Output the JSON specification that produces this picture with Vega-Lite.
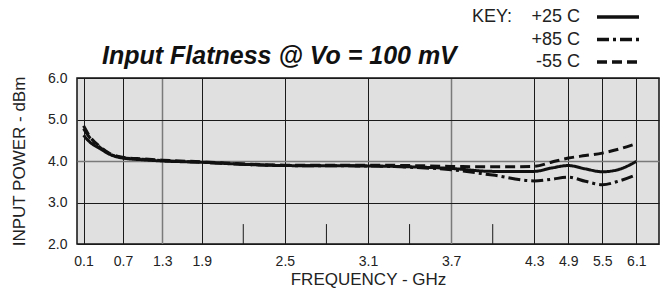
{
  "$schema": "https://vega.github.io/schema/vega-lite/v6.json",
  "autosize": "none",
  "padding": {"left": 77, "top": 78, "right": 10, "bottom": 49},
  "width": 582,
  "height": 166,
  "background": "white",
  "title": {
    "text": "Input Flatness @ Vo = 100 mV",
    "anchor": "start",
    "frame": "group",
    "dx": 25,
    "offset": -61,
    "font": "Liberation Sans",
    "fontSize": 25,
    "fontWeight": "bold",
    "fontStyle": "italic",
    "color": "#111"
  },
  "config": {
    "view": {"fill": "#e0e0e0", "stroke": "#111", "strokeWidth": 1.5},
    "axis": {
      "labelFont": "Liberation Sans",
      "labelFontSize": 14,
      "labelColor": "#222",
      "titleFont": "Liberation Sans",
      "titleFontSize": 17,
      "titleFontWeight": "normal",
      "titleColor": "#222",
      "ticks": false,
      "domain": false,
      "gridOpacity": 1
    },
    "legend": {
      "orient": "none",
      "legendX": 395,
      "legendY": -70,
      "titleOrient": "left",
      "titleAnchor": "start",
      "titlePadding": 82,
      "titleFont": "Liberation Sans",
      "titleFontSize": 18,
      "titleFontWeight": "normal",
      "titleColor": "#222",
      "labelFont": "Liberation Sans",
      "labelFontSize": 18,
      "labelColor": "#222",
      "labelAlign": "right",
      "labelOffset": -33,
      "symbolType": "M-1,0H5",
      "symbolSize": 196,
      "symbolStrokeWidth": 3.5,
      "symbolStrokeColor": "#111",
      "rowPadding": 4.5
    }
  },
  "layer": [
    {
      "data": {
        "values": [
          {"freq": 0.1, "power": 4.62, "temp": "+25 C"},
          {"freq": 0.2, "power": 4.45, "temp": "+25 C"},
          {"freq": 0.35, "power": 4.3, "temp": "+25 C"},
          {"freq": 0.5, "power": 4.16, "temp": "+25 C"},
          {"freq": 0.7, "power": 4.07, "temp": "+25 C"},
          {"freq": 1.0, "power": 4.03, "temp": "+25 C"},
          {"freq": 1.3, "power": 4.0, "temp": "+25 C"},
          {"freq": 1.9, "power": 3.97, "temp": "+25 C"},
          {"freq": 2.2, "power": 3.92, "temp": "+25 C"},
          {"freq": 2.5, "power": 3.89, "temp": "+25 C"},
          {"freq": 3.1, "power": 3.88, "temp": "+25 C"},
          {"freq": 3.4, "power": 3.86, "temp": "+25 C"},
          {"freq": 3.7, "power": 3.82, "temp": "+25 C"},
          {"freq": 4.0, "power": 3.75, "temp": "+25 C"},
          {"freq": 4.3, "power": 3.75, "temp": "+25 C"},
          {"freq": 4.6, "power": 3.83, "temp": "+25 C"},
          {"freq": 4.9, "power": 3.89, "temp": "+25 C"},
          {"freq": 5.2, "power": 3.81, "temp": "+25 C"},
          {"freq": 5.5, "power": 3.74, "temp": "+25 C"},
          {"freq": 5.8, "power": 3.8, "temp": "+25 C"},
          {"freq": 6.1, "power": 3.99, "temp": "+25 C"},
          {"freq": 0.1, "power": 4.78, "temp": "+85 C"},
          {"freq": 0.2, "power": 4.55, "temp": "+85 C"},
          {"freq": 0.35, "power": 4.33, "temp": "+85 C"},
          {"freq": 0.5, "power": 4.17, "temp": "+85 C"},
          {"freq": 0.7, "power": 4.08, "temp": "+85 C"},
          {"freq": 1.0, "power": 4.04, "temp": "+85 C"},
          {"freq": 1.3, "power": 4.01, "temp": "+85 C"},
          {"freq": 1.9, "power": 3.97, "temp": "+85 C"},
          {"freq": 2.2, "power": 3.92, "temp": "+85 C"},
          {"freq": 2.5, "power": 3.89, "temp": "+85 C"},
          {"freq": 3.1, "power": 3.88, "temp": "+85 C"},
          {"freq": 3.4, "power": 3.85, "temp": "+85 C"},
          {"freq": 3.7, "power": 3.79, "temp": "+85 C"},
          {"freq": 4.0, "power": 3.66, "temp": "+85 C"},
          {"freq": 4.3, "power": 3.52, "temp": "+85 C"},
          {"freq": 4.6, "power": 3.56, "temp": "+85 C"},
          {"freq": 4.9, "power": 3.61, "temp": "+85 C"},
          {"freq": 5.2, "power": 3.51, "temp": "+85 C"},
          {"freq": 5.5, "power": 3.43, "temp": "+85 C"},
          {"freq": 5.8, "power": 3.52, "temp": "+85 C"},
          {"freq": 6.1, "power": 3.67, "temp": "+85 C"},
          {"freq": 0.1, "power": 4.85, "temp": "-55 C"},
          {"freq": 0.2, "power": 4.58, "temp": "-55 C"},
          {"freq": 0.35, "power": 4.35, "temp": "-55 C"},
          {"freq": 0.5, "power": 4.18, "temp": "-55 C"},
          {"freq": 0.7, "power": 4.09, "temp": "-55 C"},
          {"freq": 1.0, "power": 4.05, "temp": "-55 C"},
          {"freq": 1.3, "power": 4.02, "temp": "-55 C"},
          {"freq": 1.9, "power": 3.98, "temp": "-55 C"},
          {"freq": 2.2, "power": 3.93, "temp": "-55 C"},
          {"freq": 2.5, "power": 3.9, "temp": "-55 C"},
          {"freq": 3.1, "power": 3.9, "temp": "-55 C"},
          {"freq": 3.4, "power": 3.89, "temp": "-55 C"},
          {"freq": 3.7, "power": 3.87, "temp": "-55 C"},
          {"freq": 4.0, "power": 3.86, "temp": "-55 C"},
          {"freq": 4.3, "power": 3.87, "temp": "-55 C"},
          {"freq": 4.6, "power": 3.97, "temp": "-55 C"},
          {"freq": 4.9, "power": 4.07, "temp": "-55 C"},
          {"freq": 5.2, "power": 4.13, "temp": "-55 C"},
          {"freq": 5.5, "power": 4.19, "temp": "-55 C"},
          {"freq": 5.8, "power": 4.29, "temp": "-55 C"},
          {"freq": 6.1, "power": 4.42, "temp": "-55 C"}
        ]
      },
      "mark": {"type": "line", "interpolate": "monotone", "strokeWidth": 3, "color": "#111", "clip": true},
      "encoding": {
        "x": {
          "field": "freq",
          "type": "quantitative",
          "scale": {"domain": [0.1, 1.9, 4.3, 6.1], "range": [0, 124.7, 457.3, 582]},
          "axis": {
            "title": "FREQUENCY - GHz",
            "values": [0.1, 0.7, 1.3, 1.9, 2.5, 3.1, 3.7, 4.3, 4.9, 5.5, 6.1],
            "format": ".1f",
            "labelPadding": 10,
            "titlePadding": 3,
            "labelFlush": false,
            "labelOverlap": false,
            "gridColor": {"condition": {"test": "datum.value === 1.3 || datum.value === 3.7", "value": "#7a7a7a"}, "value": "#1a1a1a"},
            "gridWidth": {"condition": {"test": "datum.value === 1.3 || datum.value === 3.7", "value": 1.5}, "value": 1}
          }
        },
        "y": {
          "field": "power",
          "type": "quantitative",
          "scale": {"domain": [2, 6], "nice": false, "zero": false},
          "axis": {
            "title": "INPUT POWER - dBm",
            "values": [2, 3, 4, 5, 6],
            "format": ".1f",
            "labelPadding": 10,
            "titlePadding": 19,
            "labelFlush": false,
            "labelOverlap": false,
            "gridColor": {"condition": {"test": "datum.value === 4", "value": "#7a7a7a"}, "value": "#1a1a1a"},
            "gridWidth": {"condition": {"test": "datum.value === 4", "value": 1.5}, "value": 1}
          }
        },
        "strokeDash": {
          "field": "temp",
          "type": "nominal",
          "scale": {"domain": ["+25 C", "+85 C", "-55 C"], "range": [[1, 0], [12, 4, 3, 4], [10, 5]]},
          "legend": {"title": "KEY:"}
        }
      }
    },
    {
      "data": {
        "values": [
          {"freq": 2.2, "low": 2.0, "high": 2.48},
          {"freq": 2.8, "low": 2.0, "high": 2.48},
          {"freq": 3.4, "low": 2.0, "high": 2.48},
          {"freq": 4.0, "low": 2.0, "high": 2.48}
        ]
      },
      "mark": {"type": "rule", "color": "#1a1a1a", "strokeWidth": 1},
      "encoding": {
        "x": {"field": "freq", "type": "quantitative"},
        "y": {"field": "low", "type": "quantitative"},
        "y2": {"field": "high"}
      }
    }
  ]
}
